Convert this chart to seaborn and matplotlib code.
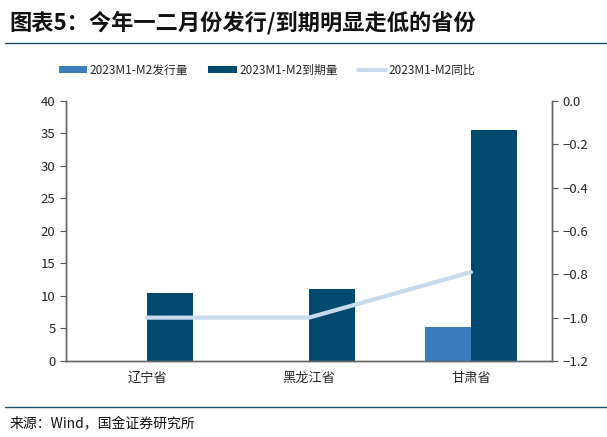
import numpy as np
import pandas as pd
import matplotlib
matplotlib.use("Agg")
import matplotlib.pyplot as plt
import seaborn as sns
from matplotlib.lines import Line2D
from matplotlib.patches import Patch

# data
provinces = ["辽宁省", "黑龙江省", "甘肃省"]
issuance = [0, 0, 5.2]
maturity = [10.4, 11.0, 35.5]
yoy = [-1.0, -1.0, -0.79]
series_names = ["2023M1-M2发行量", "2023M1-M2到期量", "2023M1-M2同比"]
right_ticks = [-1.2, -1.0, -0.8, -0.6, -0.4, -0.2, 0.0]

sns.set_style("white")
plt.rcParams["font.family"] = ["Noto Sans CJK SC", "DejaVu Sans"]
plt.rcParams["axes.unicode_minus"] = True

c_iss = "#3b7dbd"
c_mat = "#004a70"
c_line = "#c8dbee"

df = pd.DataFrame({
    "province": provinces * 2,
    "value": issuance + maturity,
    "series": [series_names[0]] * 3 + [series_names[1]] * 3,
})

fig = plt.figure(figsize=(6.07, 4.37), dpi=100)
ax = fig.add_axes([0.1087, 0.174, 0.8007, 0.595])

sns.barplot(data=df, x="province", y="value", hue="series",
            palette=[c_iss, c_mat], width=0.57, saturation=1,
            linewidth=0, edgecolor="none", legend=False, ax=ax)

ax2 = ax.twinx()
sns.lineplot(x=np.arange(len(provinces)), y=yoy, color=c_line,
             linewidth=3, ax=ax2)

ax.set_xlim(-0.5, 2.5)
ax.set_ylim(0, 40)
ax.set_yticks(range(0, 41, 5))
ax2.set_ylim(-1.2, 0.0)
ax2.set_yticks(right_ticks)
ax2.set_yticklabels([f"{v:.1f}".replace("-0.0", "0.0").replace("-", "\u2212")
                     for v in right_ticks])

# category labels in the middle, tick marks on the boundaries
ax.set_xticks([-0.5, 0.5, 1.5, 2.5])
ax.set_xticklabels([])
ax.set_xticks(range(len(provinces)), minor=True)
ax.set_xticklabels(provinces, minor=True)
ax.tick_params(axis="x", which="minor", length=0, pad=8, labelsize=9.5)
ax.tick_params(axis="x", which="major", length=4, direction="out", color="#555555")
ax.tick_params(axis="y", length=4, direction="out", labelsize=9.5, color="#555555")
ax2.tick_params(axis="y", length=4, direction="out", labelsize=9.5, color="#555555")
ax.set_xlabel("")
ax.set_ylabel("")
ax2.set_ylabel("")

for a in (ax, ax2):
    a.spines["top"].set_visible(False)
    for s in ("left", "right", "bottom"):
        a.spines[s].set_color("#666666")
        a.spines[s].set_linewidth(1)

handles = [
    Patch(facecolor=c_iss, edgecolor="none"),
    Patch(facecolor=c_mat, edgecolor="none"),
    Line2D([0], [0], color=c_line, linewidth=3),
]
fig.legend(handles, series_names, loc="center", bbox_to_anchor=(0.44, 0.84),
           ncol=3, frameon=False, fontsize=8.5, handlelength=2.4,
           handleheight=0.55, columnspacing=1.7, handletextpad=0.2)

# title, rules and source
fig.text(0.016, 0.948, "图表5：今年一二月份发行/到期明显走低的省份",
         fontsize=16, fontweight="bold", style="italic", color="#111111",
         va="center", ha="left")
fig.add_artist(Line2D([0.008, 1.0], [0.901, 0.901], color="#1f4e6b", linewidth=1))
fig.add_artist(Line2D([0.008, 1.0], [0.068, 0.068], color="#1f4e6b", linewidth=1))
fig.text(0.016, 0.03, "来源：Wind，国金证券研究所", fontsize=10,
         color="#111111", va="center", ha="left")

fig.savefig("out.png", dpi=100)
